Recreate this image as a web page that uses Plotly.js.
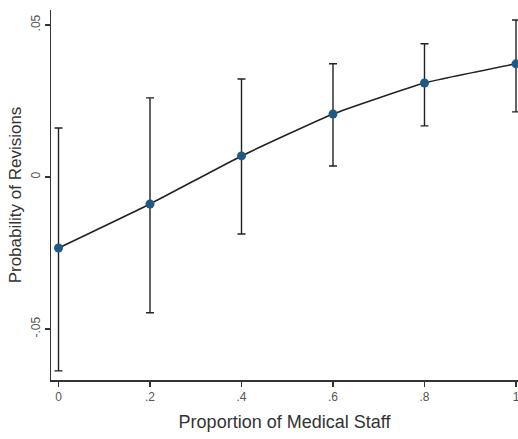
<!DOCTYPE html>
<html>
<head>
<meta charset="utf-8">
<script src="https://cdn.plot.ly/plotly-3.0.1.min.js"></script>
<style>html,body{margin:0;padding:0;background:#fff;}#chart{width:518px;height:439px;}</style>
</head>
<body>
<div id="chart"></div>
<script>
const proportion = [0, 0.2, 0.4, 0.6, 0.8, 1];
const probability = [-0.0234, -0.0089, 0.0069, 0.0207, 0.0309, 0.0372];
const ciUpper = [0.0161, 0.0260, 0.0322, 0.0372, 0.0438, 0.0516];
const ciLower = [-0.0638, -0.0447, -0.0188, 0.0036, 0.0168, 0.0214];
const xTickVals = [0, 0.2, 0.4, 0.6, 0.8, 1];
const xTickText = ['0', '.2', '.4', '.6', '.8', '1'];
const yTickVals = [-0.05, 0, 0.05];
const yTickText = ['-.05', '0', '.05'];

const errPlus = probability.map((v, i) => ciUpper[i] - v);
const errMinus = probability.map((v, i) => v - ciLower[i]);

const trace = {
  x: proportion,
  y: probability,
  type: 'scatter',
  mode: 'lines+markers',
  line: {color: '#222', width: 1.6, shape: 'spline', smoothing: 0.4},
  marker: {color: '#1f5a85', size: 9},
  error_y: {type: 'data', symmetric: false, array: errPlus, arrayminus: errMinus,
            color: '#222', thickness: 1.4, width: 4},
  hoverinfo: 'x+y'
};

const layout = {
  width: 518, height: 439,
  margin: {l: 51, r: 0, t: 10, b: 59},
  paper_bgcolor: '#fff', plot_bgcolor: '#fff',
  showlegend: false,
  font: {family: 'Liberation Sans, Arial, sans-serif', color: '#333'},
  xaxis: {
    range: [-0.0164, 1.0044],
    tickvals: xTickVals, ticktext: xTickText,
    ticklabeloverflow: 'allow',
    showgrid: false, zeroline: false,
    showline: true, linecolor: '#333', linewidth: 1.5,
    ticks: 'outside', ticklen: 5, tickcolor: '#333', tickwidth: 1.3,
    tickfont: {size: 12, color: '#555'},
    title: {text: 'Proportion of Medical Staff', font: {size: 18, color: '#333'}, standoff: 12}
  },
  yaxis: {
    range: [-0.0668, 0.0549],
    tickvals: yTickVals, ticktext: yTickText,
    tickangle: -90,
    showgrid: false, zeroline: false,
    showline: true, linecolor: '#333', linewidth: 1.5,
    ticks: 'outside', ticklen: 5, tickcolor: '#333', tickwidth: 1.3,
    tickfont: {size: 12, color: '#555'},
    title: {text: 'Probability of Revisions', font: {size: 17, color: '#333'}, standoff: 3}
  }
};

Plotly.newPlot('chart', [trace], layout, {displayModeBar: false, staticPlot: true});
</script>
</body>
</html>
